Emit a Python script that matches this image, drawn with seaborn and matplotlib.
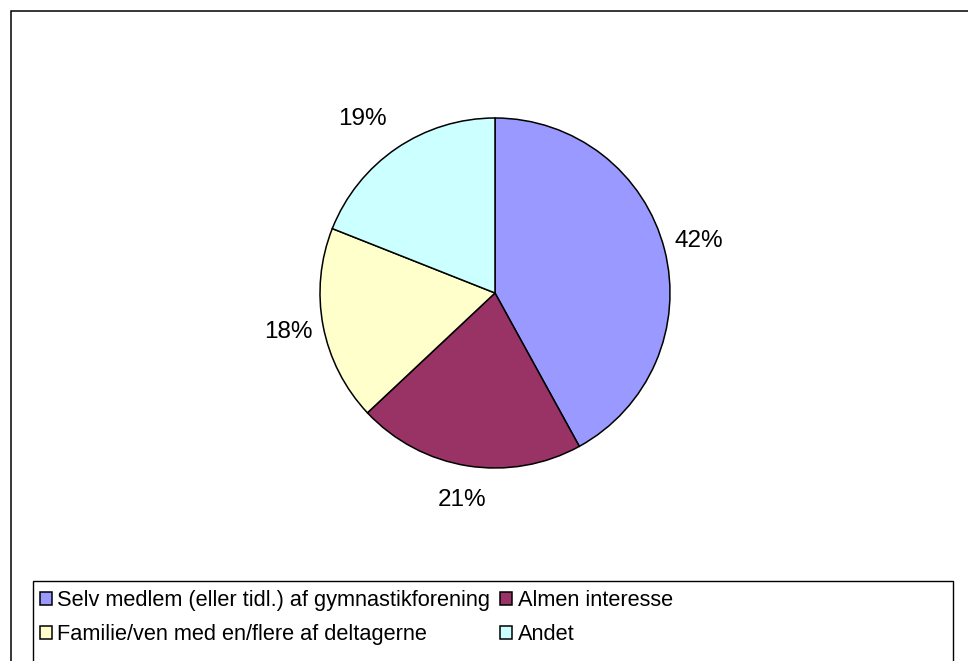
import numpy as np
import matplotlib
matplotlib.use("Agg")
import matplotlib.pyplot as plt
import seaborn as sns
from matplotlib.patches import Rectangle

# data
categories = ["Selv medlem (eller tidl.) af gymnastikforening",
              "Almen interesse",
              "Familie/ven med en/flere af deltagerne",
              "Andet"]
shares = [42, 21, 18, 19]
colors = ["#9999FF", "#993366", "#FFFFCC", "#CCFFFF"]

sns.set_theme(style="white")
plt.rcParams['font.family'] = ['Liberation Sans', 'DejaVu Sans']
plt.rcParams['text.color'] = 'black'

W, H = 968, 661
fig = plt.figure(figsize=(W / 100, H / 100), dpi=100)
fig.patch.set_facecolor("white")

# chart frame (cut off on the right and bottom)
fig.patches.append(Rectangle((11 / W, -0.02), 1.05, 1 - 11 / H + 0.02,
                             transform=fig.transFigure, fill=False,
                             edgecolor="black", linewidth=1.1))

# pie axes: centre (495, 293) px, radius 175 px
cx, cy, r, half = 495, 293, 175, 250
ax = fig.add_axes([(cx - half) / W, 1 - (cy + half) / H, 2 * half / W, 2 * half / H])
wedges, texts, autotexts = ax.pie(shares, colors=colors, startangle=90, counterclock=False,
                                  autopct="%1.0f%%", pctdistance=1.2,
                                  wedgeprops=dict(edgecolor="black", linewidth=1.1),
                                  textprops=dict(fontsize=17.5, color="black"))
# Excel keeps the top-left label a bit further left
x19, y19 = autotexts[3].get_position()
autotexts[3].set_position((x19 - 15 / r, y19))
ax.set_xlim(-half / r, half / r)
ax.set_ylim(-half / r, half / r)
ax.set_aspect("equal")
ax.axis("off")

# legend box
fig.patches.append(Rectangle((33 / W, 1 - 662 / H), (953 - 33) / W, (662 - 581) / H,
                             transform=fig.transFigure, fill=False,
                             edgecolor="black", linewidth=1.0))
order = [0, 2, 1, 3]
fig.legend([wedges[i] for i in order], [categories[i] for i in order],
           ncol=2, loc="upper left", bbox_to_anchor=(40 / W, 1 - 590 / H),
           frameon=False, fontsize=15.7, labelcolor="black",
           borderpad=0, borderaxespad=0,
           handlelength=0.55, handleheight=0.55, handletextpad=0.25,
           columnspacing=0.45, labelspacing=0.6)

fig.savefig("out.png", dpi=100)
